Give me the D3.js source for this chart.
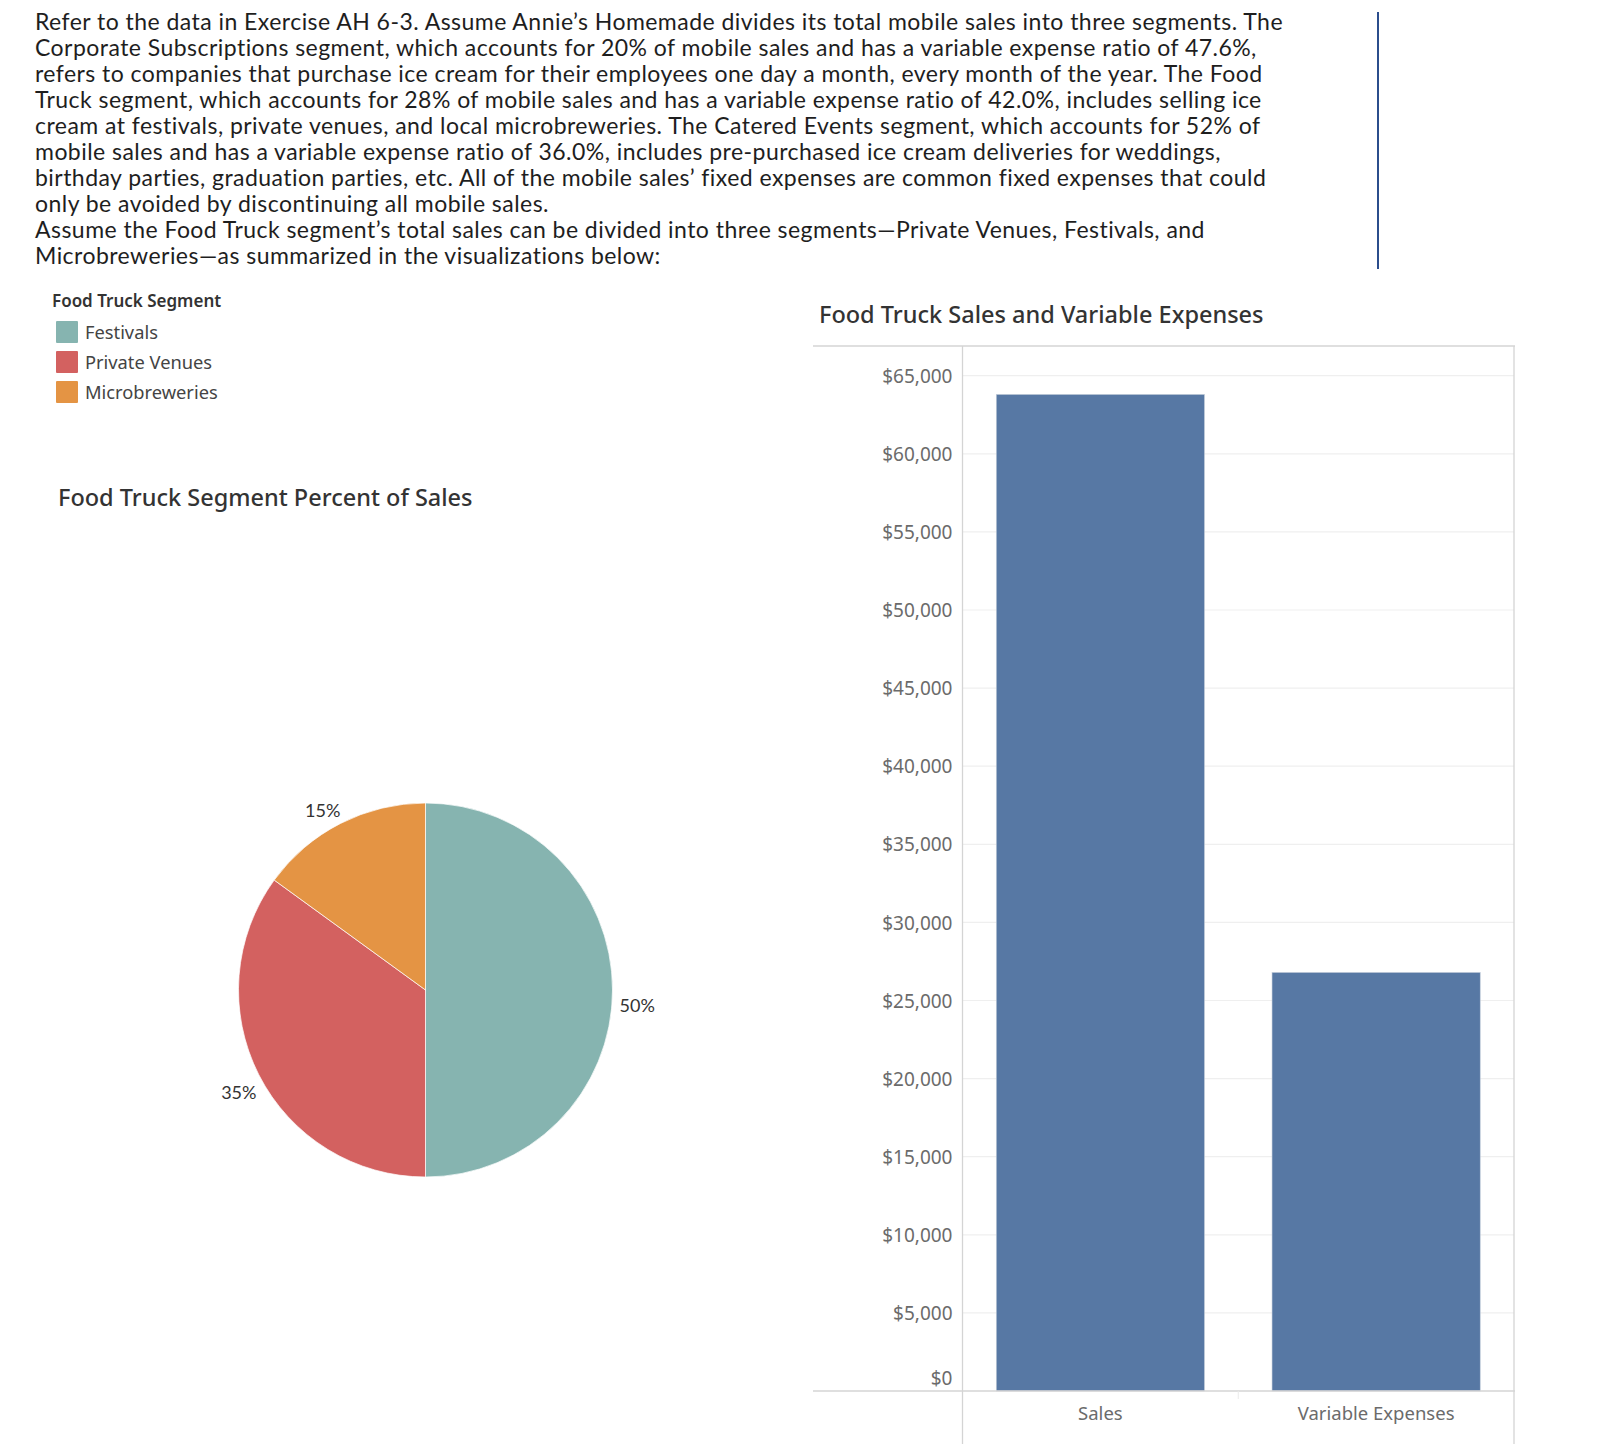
<!DOCTYPE html>
<html><head><meta charset="utf-8">
<script src="https://cdn.jsdelivr.net/npm/d3@7"></script>
<style>
html,body{margin:0;padding:0;background:#fff;}
svg{display:block;}
</style></head>
<body>
<svg id="chart" width="1604" height="1444"></svg>
<script>
// ---- data ----
const paragraphLines = [
  "Refer to the data in Exercise AH 6-3. Assume Annie’s Homemade divides its total mobile sales into three segments. The",
  "Corporate Subscriptions segment, which accounts for 20% of mobile sales and has a variable expense ratio of 47.6%,",
  "refers to companies that purchase ice cream for their employees one day a month, every month of the year. The Food",
  "Truck segment, which accounts for 28% of mobile sales and has a variable expense ratio of 42.0%, includes selling ice",
  "cream at festivals, private venues, and local microbreweries. The Catered Events segment, which accounts for 52% of",
  "mobile sales and has a variable expense ratio of 36.0%, includes pre-purchased ice cream deliveries for weddings,",
  "birthday parties, graduation parties, etc. All of the mobile sales’ fixed expenses are common fixed expenses that could",
  "only be avoided by discontinuing all mobile sales.",
  "Assume the Food Truck segment’s total sales can be divided into three segments—Private Venues, Festivals, and",
  "Microbreweries—as summarized in the visualizations below:"
];
const segments = ["Festivals", "Private Venues", "Microbreweries"];
const segmentShares = [50, 35, 15];
const segmentColors = ["#86b4b0", "#d36160", "#e49444"];

const barCategories = ["Sales", "Variable Expenses"];
const barValues = [63800, 26796];
const yTicks = [0,5000,10000,15000,20000,25000,30000,35000,40000,45000,50000,55000,60000,65000];

const legendTitle = "Food Truck Segment";
const pieTitle = "Food Truck Segment Percent of Sales";
const barTitle = "Food Truck Sales and Variable Expenses";

// ---- drawing ----
const svg = d3.select("#chart");
svg.append("rect").attr("width",1604).attr("height",1444).attr("fill","#fff");

// paragraph
const para = svg.append("g").attr("font-family","Lato, 'Open Sans', sans-serif")
  .attr("font-size",23).attr("fill","#1e1e1e");
const pLines = para.selectAll("text").data(paragraphLines).join("text")
  .attr("x",35).attr("y",(d,i)=>29.5 + i*26.03).text(d=>d);
// fit first line width to the reference measure
const firstW = pLines.node().getComputedTextLength();
const ls = (1248 - firstW) / (paragraphLines[0].length);
pLines.attr("letter-spacing", ls);

// vertical rule
svg.append("line").attr("x1",1378).attr("x2",1378).attr("y1",12).attr("y2",269)
  .attr("stroke","#2b4d8c").attr("stroke-width",2);

const chartFont = "'Noto Sans', 'Open Sans', sans-serif";

// legend
const leg = svg.append("g").attr("font-family",chartFont);
leg.append("text").attr("x",52).attr("y",307).attr("font-size",17).attr("font-weight",600)
  .attr("fill","#333").text(legendTitle);
const li = leg.selectAll("g.item").data(segments).join("g").attr("class","item")
  .attr("transform",(d,i)=>`translate(56,${321 + i*30})`);
li.append("rect").attr("width",22).attr("height",22).attr("rx",1).attr("fill",(d,i)=>segmentColors[i]);
li.append("text").attr("x",29).attr("y",17.5).attr("font-size",18.3).attr("fill","#444")
  .text(d=>d);

// pie title
svg.append("text").attr("x",58).attr("y",506).attr("font-family",chartFont)
  .attr("font-size",23.5).attr("font-weight",500).attr("fill","#333").text(pieTitle);

// pie
const cx = 425.5, cy = 990, r = 187;
const pie = d3.pie().sort(null).value(d=>d)(segmentShares);
const arc = d3.arc().innerRadius(0).outerRadius(r);
const labelR = r + 5;
const pg = svg.append("g").attr("transform",`translate(${cx},${cy})`);
pg.selectAll("path").data(pie).join("path").attr("d",arc)
  .attr("fill",(d,i)=>segmentColors[i]).attr("stroke","#fff").attr("stroke-width",0.7);
pg.selectAll("text").data(pie).join("text")
  .each(function(d){
    const a = (d.startAngle + d.endAngle)/2;
    const px = labelR*Math.sin(a), py = -labelR*Math.cos(a);
    const deg = a*180/Math.PI;
    const lower = deg >= 90 && deg < 270;
    const right = deg < 180;
    d3.select(this).attr("x", px + 2).attr("y", py)
      .attr("text-anchor", right ? "start" : "end")
      .attr("dy", lower ? "1.2em" : "-0.12em");
  })
  .attr("font-family","Lato, 'Open Sans', sans-serif").attr("font-size",18).attr("fill","#333")
  .text(d=>d.data+"%");

// bar chart
svg.append("text").attr("x",819).attr("y",323).attr("font-family",chartFont)
  .attr("font-size",23.5).attr("font-weight",500).attr("fill","#333").text(barTitle);

const plotL = 962.5, plotR = 1514, plotT = 346, plotB = 1391;
const x = d3.scaleBand().domain(barCategories).range([plotL, plotR]).paddingInner(0.245).paddingOuter(0.1225);
const y = d3.scaleLinear().domain([0, 66900]).range([plotB, plotT]);

const bg = svg.append("g");
// gridlines
bg.selectAll("line.grid").data(yTicks.filter(t=>t>0)).join("line").attr("class","grid")
  .attr("x1",plotL).attr("x2",plotR).attr("y1",d=>y(d)).attr("y2",d=>y(d))
  .attr("stroke","#efefef").attr("stroke-width",1.2);
// bars
bg.selectAll("rect.bar").data(barValues).join("rect").attr("class","bar")
  .attr("x",(d,i)=>x(barCategories[i])).attr("width",x.bandwidth())
  .attr("y",d=>y(d)).attr("height",d=>plotB-y(d))
  .attr("fill","#5778a4").attr("stroke","#c3cdda").attr("stroke-width",0.6);

// frame
const frame = svg.append("g").attr("stroke","#d4d4d4").attr("stroke-width",1.3);
frame.append("line").attr("x1",813).attr("x2",plotR+1).attr("y1",plotT).attr("y2",plotT);
frame.append("line").attr("x1",plotL).attr("x2",plotL).attr("y1",plotT).attr("y2",1444);
frame.append("line").attr("x1",plotR).attr("x2",plotR).attr("y1",plotT).attr("y2",1444);
frame.append("line").attr("x1",813).attr("x2",plotR+1).attr("y1",plotB).attr("y2",plotB);
// category divider tick
svg.append("line").attr("x1",x.step()+plotL).attr("x2",x.step()+plotL).attr("y1",plotB).attr("y2",plotB+8)
  .attr("stroke","#eaeaea").attr("stroke-width",1);

// y axis
const yAxis = d3.axisLeft(y).tickValues(yTicks).tickSize(0).tickPadding(0)
  .tickFormat(d=>"$"+d3.format(",")(d));
const ya = svg.append("g").attr("transform",`translate(952.5,0)`).call(yAxis);
ya.select(".domain").remove();
ya.selectAll("text").attr("font-family",chartFont).attr("font-size",19).attr("fill","#6b6b6b")
  .attr("dy",d=>d===0?"-0.35em":"0.35em");

// x axis
const xAxis = d3.axisBottom(x).tickSize(0).tickPadding(0);
const xa = svg.append("g").attr("transform",`translate(0,${plotB})`).call(xAxis);
xa.select(".domain").remove();
xa.selectAll("text").attr("font-family",chartFont).attr("font-size",18.5).attr("fill","#6b6b6b")
  .attr("y",29).attr("dy",0);
</script>
</body></html>
